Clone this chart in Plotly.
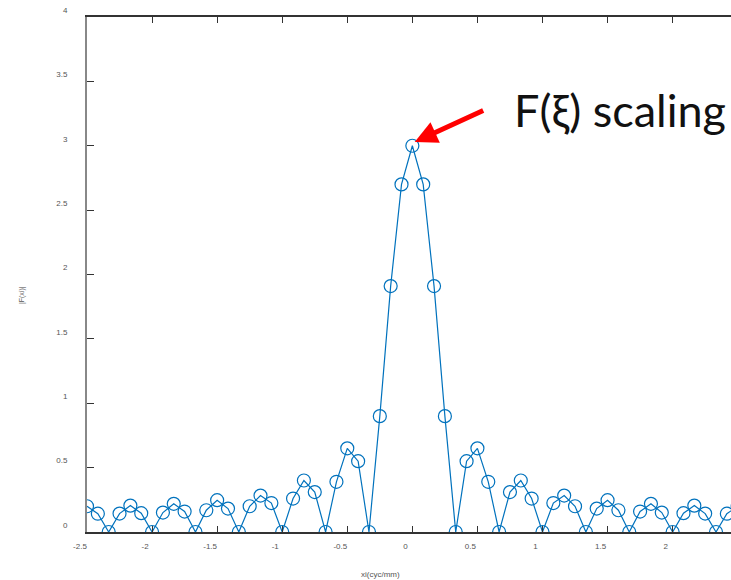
import plotly.graph_objects as go

# sample index k -> xi = k/12 (cyc/mm)
k_index = list(range(-30, 31))
xi = [k / 12 for k in k_index]

# |F(xi)| (symmetric about 0), listed for k = 0..30
half_vals = [3.00, 2.70, 1.91, 0.90, 0.00, 0.55, 0.65, 0.39, 0.00, 0.31,
             0.40, 0.26, 0.00, 0.225, 0.283, 0.20, 0.00, 0.182, 0.247, 0.169,
             0.00, 0.159, 0.219, 0.151, 0.00, 0.146, 0.205, 0.143, 0.00, 0.142,
             0.20]
F_abs = half_vals[:0:-1] + half_vals

x_ticks = [-2.5, -2, -1.5, -1, -0.5, 0, 0.5, 1, 1.5, 2, 2.5]
x_tick_text = ["-2.5", "-2", "-1.5", "-1", "-0.5", "0", "0.5", "1", "1.5", "2", "2.5"]
y_ticks = [0, 0.5, 1, 1.5, 2, 2.5, 3, 3.5, 4]
y_tick_text = ["0", "0.5", "1", "1.5", "2", "2.5", "3", "3.5", "4"]

blue = "#0072BD"

fig = go.Figure()
fig.add_trace(go.Scatter(
    x=xi, y=F_abs, mode="lines+markers",
    line=dict(color=blue, width=1.2),
    marker=dict(symbol="circle-open", size=13, color=blue, line=dict(width=1.2, color=blue)),
    showlegend=False, cliponaxis=True,
))

tick_font = dict(family="Liberation Sans, Arial, sans-serif", size=8, color="#555555")

fig.update_layout(
    width=731, height=580,
    margin=dict(l=87, r=0, t=17, b=48),
    paper_bgcolor="white", plot_bgcolor="white",
    xaxis=dict(
        range=[-2.5, 2.4485], tickvals=x_ticks, ticktext=x_tick_text,
        ticks="inside", ticklen=6, tickwidth=1, tickcolor="#333333",
        showline=True, linecolor="#333333", linewidth=1.5, mirror="ticks",
        showgrid=False, zeroline=False, tickfont=tick_font,
        ticklabelstandoff=6, ticklabelshift=-7,
    ),
    yaxis=dict(
        range=[0, 4], tickvals=y_ticks, ticktext=y_tick_text,
        ticks="inside", ticklen=7, tickwidth=1, tickcolor="#333333",
        showline=True, linecolor="#888888", linewidth=2, mirror=False,
        showgrid=False, zeroline=False, tickfont=tick_font,
        ticklabelstandoff=16, ticklabelshift=-7,
    ),
    annotations=[
        dict(text="|F(xi)|", textangle=-90, xref="paper", yref="paper",
             x=-0.101, y=0.46, xanchor="center", yanchor="middle", showarrow=False,
             font=dict(family="Liberation Sans, Arial, sans-serif", size=7, color="#555555")),
        dict(text="xi(cyc/mm)", xref="paper", yref="paper",
             x=(380 - 87) / 644, y=-0.083, xanchor="center", yanchor="middle", showarrow=False,
             font=dict(family="Liberation Sans, Arial, sans-serif", size=8, color="#555555")),
        dict(text="F(ξ) scaling", xref="x", yref="y", x=1.595, y=3.28,
             xanchor="center", yanchor="middle", showarrow=False,
             font=dict(family="Lato, Open Sans, sans-serif", size=45, color="#111111")),
        dict(text="", xref="x", yref="y", x=0.018, y=3.03, ax=70, ay=-32,
             showarrow=True, arrowhead=2, arrowsize=0.9, arrowwidth=5, arrowcolor="#FF0000",
             standoff=0),
    ],
)

fig.write_html("out.html")
